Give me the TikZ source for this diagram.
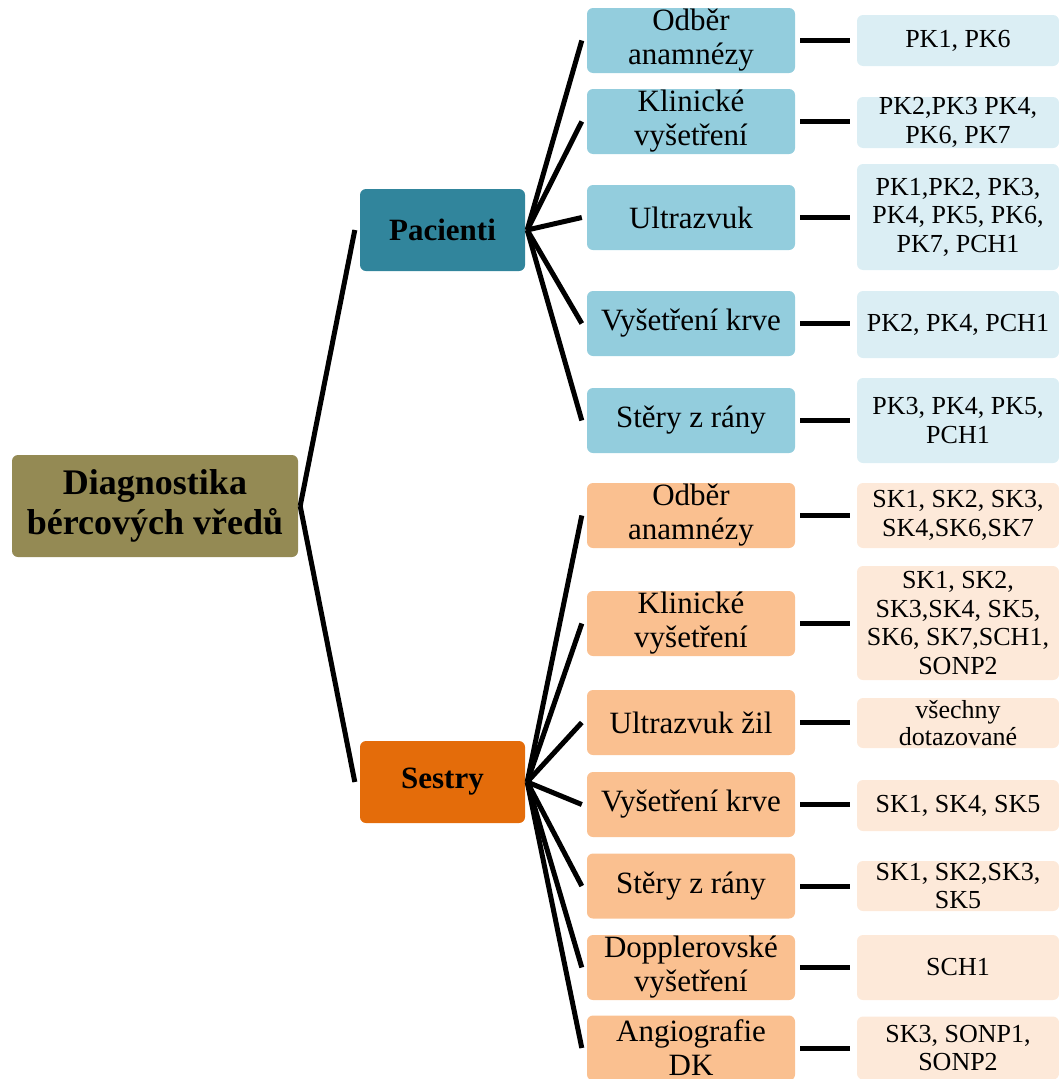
\documentclass[tikz,border=0pt]{standalone}
\usepackage{fontspec}
\setmainfont{Liberation Serif}
\usetikzlibrary{calc}

\definecolor{rootfill}{HTML}{948A54}
\definecolor{pacfill}{HTML}{31859C}
\definecolor{sesfill}{HTML}{E46C0A}
\definecolor{bluemid}{HTML}{93CDDD}
\definecolor{bluelight}{HTML}{DBEEF4}
\definecolor{orangemid}{HTML}{FAC090}
\definecolor{orangelight}{HTML}{FDE9D9}

\tikzset{
  box/.style={rectangle, rounded corners=6pt, inner sep=0pt, align=center, text=black},
  rootbox/.style={box, fill=rootfill, minimum width=286pt, minimum height=102pt,
    font=\fontsize{36}{40}\selectfont\bfseries},
  groupbox/.style={box, minimum width=165pt, minimum height=82pt,
    font=\fontsize{31}{34}\selectfont\bfseries},
  midbox/.style={box, minimum width=208pt, minimum height=65pt,
    font=\fontsize{31}{34}\selectfont},
  leafbox/.style={box, minimum width=202pt,
    font=\fontsize{26}{28.5}\selectfont},
  link/.style={line width=5pt, black},
}

\begin{document}
\begin{tikzpicture}[x=1pt, y=-1pt]
\useasboundingbox (0,0) rectangle (1059,1079);

% root and the two groups
\node[rootbox] (root) at (155,506) {Diagnostika\\bércových vředů};
\node[groupbox, fill=pacfill] (pac) at (442.5,230) {Pacienti};
\node[groupbox, fill=sesfill] (ses) at (442.5,782) {Sestry};

% patient branch
\node[midbox, fill=bluemid] (p1) at (691,40.5)  {Odběr\\anamnézy};
\node[midbox, fill=bluemid] (p2) at (691,121.5) {Klinické\\vyšetření};
\node[midbox, fill=bluemid] (p3) at (691,217.5) {Ultrazvuk};
\node[midbox, fill=bluemid] (p4) at (691,323.5) {Vyšetření krve};
\node[midbox, fill=bluemid] (p5) at (691,420.5) {Stěry z rány};

\node[leafbox, fill=bluelight, minimum height=51pt]  (pl1) at (958,40.5)  {PK1, PK6};
\node[leafbox, fill=bluelight, minimum height=51pt]  (pl2) at (958,122.5) {PK2,PK3 PK4,\\PK6, PK7};
\node[leafbox, fill=bluelight, minimum height=106pt] (pl3) at (958,217)   {PK1,PK2, PK3,\\PK4, PK5, PK6,\\PK7, PCH1};
\node[leafbox, fill=bluelight, minimum height=67pt]  (pl4) at (958,324.5) {PK2, PK4, PCH1};
\node[leafbox, fill=bluelight, minimum height=85pt]  (pl5) at (958,420.5) {PK3, PK4, PK5,\\PCH1};

% nurse branch
\node[midbox, fill=orangemid] (s1) at (691,515.5) {Odběr\\anamnézy};
\node[midbox, fill=orangemid] (s2) at (691,623.5) {Klinické\\vyšetření};
\node[midbox, fill=orangemid] (s3) at (691,722.5) {Ultrazvuk žil};
\node[midbox, fill=orangemid] (s4) at (691,804.5) {Vyšetření krve};
\node[midbox, fill=orangemid] (s5) at (691,886)   {Stěry z rány};
\node[midbox, fill=orangemid] (s6) at (691,967.5) {Dopplerovské\\vyšetření};
\node[midbox, fill=orangemid] (s7) at (691,1048)  {Angiografie\\DK};

\node[leafbox, fill=orangelight, minimum height=65pt]  (sl1) at (958,515.5) {SK1, SK2, SK3,\\SK4,SK6,SK7};
\node[leafbox, fill=orangelight, minimum height=114pt] (sl2) at (958,623)   {SK1, SK2,\\SK3,SK4, SK5,\\SK6, SK7,SCH1,\\SONP2};
\node[leafbox, fill=orangelight, minimum height=50pt,
      font=\fontsize{26}{27}\selectfont]               (sl3) at (958,723)   {všechny\\dotazované};
\node[leafbox, fill=orangelight, minimum height=51pt]  (sl4) at (958,805.5) {SK1, SK4, SK5};
\node[leafbox, fill=orangelight, minimum height=50pt]  (sl5) at (958,886)   {SK1, SK2,SK3,\\SK5};
\node[leafbox, fill=orangelight, minimum height=65pt]  (sl6) at (958,967.5) {SCH1};
\node[leafbox, fill=orangelight, minimum height=63pt]  (sl7) at (958,1048)  {SK3, SONP1,\\SONP2};

% connectors: root to groups
\foreach \g in {pac,ses}
  \draw[link] ($(root.east)+(2,0)$) -- ($(\g.west)+(-5,0)$);

% connectors: groups to their items
\foreach \m in {p1,p2,p3,p4,p5}
  \draw[link] ($(pac.east)+(2,0)$) -- ($(\m.west)+(-5,0)$);
\foreach \m in {s1,s2,s3,s4,s5,s6,s7}
  \draw[link] ($(ses.east)+(2,0)$) -- ($(\m.west)+(-5,0)$);

% connectors: items to their results, level with each item
\foreach \m/\l in {p1/pl1,p2/pl2,p3/pl3,p4/pl4,p5/pl5,s1/sl1,s2/sl2,s3/sl3,s4/sl4,s5/sl5,s6/sl6,s7/sl7}{
  \coordinate (\m-end) at ($(\m.east)+(55,0)$);
  \draw[link] ($(\m.east)+(5,0)$) -- (\m-end);
}
\end{tikzpicture}
\end{document}
